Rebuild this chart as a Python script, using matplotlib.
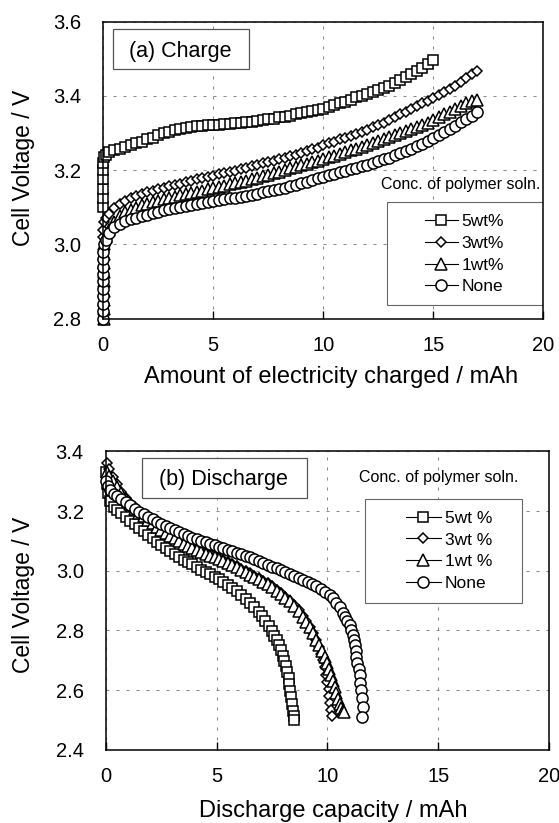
import matplotlib
matplotlib.use("Agg")
import matplotlib.pyplot as plt
from matplotlib.patches import Rectangle

plt.rcParams['font.family'] = ['Liberation Sans', 'DejaVu Sans']
plt.rcParams['lines.scale_dashes'] = False

# ---------------- data: (a) charge ----------------
CHG_GRID = [0.25, 0.5, 0.75, 1.0, 1.25, 1.5, 1.75, 2.0, 2.25, 2.5,
            2.75, 3.0, 3.25, 3.5, 3.75, 4.0, 4.25, 4.5, 4.75, 5.0,
            5.25, 5.5, 5.75, 6.0, 6.25, 6.5, 6.75, 7.0, 7.25, 7.5,
            7.75, 8.0, 8.25, 8.5, 8.75, 9.0, 9.25, 9.5, 9.75, 10.0,
            10.25, 10.5, 10.75, 11.0, 11.25, 11.5, 11.75, 12.0, 12.25, 12.5,
            12.75, 13.0, 13.25, 13.5, 13.75, 14.0, 14.25, 14.5, 14.75, 15.0,
            15.25, 15.5, 15.75, 16.0, 16.25, 16.5, 16.75, 17.0]

c5_head_x = [0.0, 0.0, 0.0, 0.0, 0.0, 0.0, 0.05, 0.1]
c5_head_y = [3.10, 3.125, 3.15, 3.175, 3.20, 3.22, 3.235, 3.242]
c5_y = [3.248, 3.253, 3.258, 3.262, 3.267, 3.272, 3.277, 3.283, 3.288, 3.294,
        3.299, 3.303, 3.307, 3.310, 3.313, 3.316, 3.318, 3.320, 3.321, 3.322,
        3.323, 3.324, 3.325, 3.326, 3.328, 3.329, 3.331, 3.333, 3.335, 3.337,
        3.339, 3.342, 3.344, 3.347, 3.350, 3.353, 3.356, 3.359, 3.362, 3.366,
        3.370, 3.375, 3.380, 3.385, 3.390, 3.396, 3.400, 3.405, 3.410, 3.416,
        3.422, 3.428, 3.435, 3.442, 3.450, 3.458, 3.467, 3.476, 3.486, 3.497]

c3_head_x = [0.0, 0.0, 0.05, 0.1]
c3_head_y = [3.02, 3.04, 3.06, 3.072]
c3_y = [3.083, 3.097, 3.108, 3.117, 3.124, 3.130, 3.135, 3.140, 3.145, 3.149,
        3.153, 3.157, 3.161, 3.164, 3.168, 3.171, 3.175, 3.178, 3.182, 3.185,
        3.189, 3.192, 3.196, 3.199, 3.203, 3.206, 3.210, 3.214, 3.218, 3.221,
        3.225, 3.229, 3.233, 3.237, 3.242, 3.246, 3.251, 3.256, 3.261, 3.267,
        3.272, 3.277, 3.283, 3.288, 3.293, 3.298, 3.304, 3.309, 3.315, 3.321,
        3.328, 3.335, 3.342, 3.350, 3.357, 3.365, 3.372, 3.380, 3.387, 3.394,
        3.402, 3.410, 3.419, 3.428, 3.438, 3.448, 3.458, 3.467]

c1_head_x = [0.05, 0.05, 0.05, 0.05, 0.05, 0.05, 0.05, 0.05, 0.05, 0.1]
c1_head_y = [2.80, 2.825, 2.85, 2.875, 2.90, 2.925, 2.95, 2.975, 3.0, 3.02]
c1_y = [3.040, 3.060, 3.076, 3.086, 3.093, 3.099, 3.105, 3.110, 3.114, 3.118,
        3.122, 3.125, 3.129, 3.132, 3.136, 3.139, 3.142, 3.145, 3.148, 3.151,
        3.155, 3.158, 3.162, 3.165, 3.169, 3.172, 3.176, 3.180, 3.184, 3.188,
        3.192, 3.196, 3.201, 3.205, 3.209, 3.213, 3.217, 3.221, 3.226, 3.230,
        3.235, 3.239, 3.244, 3.248, 3.253, 3.258, 3.263, 3.268, 3.274, 3.279,
        3.284, 3.289, 3.295, 3.300, 3.306, 3.311, 3.317, 3.322, 3.328, 3.335,
        3.342, 3.350, 3.358, 3.366, 3.373, 3.380, 3.386, 3.390]

c0_head_x = [0.0, 0.0, 0.0, 0.0, 0.0, 0.0, 0.0, 0.0, 0.0, 0.0, 0.05, 0.1]
c0_head_y = [2.80, 2.82, 2.84, 2.86, 2.88, 2.90, 2.92, 2.94, 2.96, 2.98, 3.0, 3.012]
c0_y = [3.030, 3.046, 3.056, 3.063, 3.068, 3.072, 3.076, 3.080, 3.084, 3.088,
        3.092, 3.095, 3.098, 3.101, 3.104, 3.106, 3.109, 3.111, 3.114, 3.116,
        3.119, 3.121, 3.124, 3.126, 3.129, 3.131, 3.134, 3.137, 3.140, 3.143,
        3.146, 3.150, 3.153, 3.157, 3.161, 3.165, 3.169, 3.173, 3.178, 3.182,
        3.186, 3.190, 3.194, 3.198, 3.202, 3.206, 3.211, 3.215, 3.220, 3.225,
        3.229, 3.234, 3.240, 3.245, 3.251, 3.257, 3.264, 3.271, 3.279, 3.287,
        3.295, 3.303, 3.311, 3.320, 3.329, 3.338, 3.347, 3.356]

# ---------------- data: (b) discharge ----------------
d5_x = [0.0, 0.05, 0.1, 0.2, 0.35, 0.5, 0.7, 0.9, 1.1, 1.3,
        1.5, 1.7, 1.9, 2.1, 2.3, 2.5, 2.7, 2.9, 3.1, 3.3,
        3.5, 3.7, 3.9, 4.1, 4.3, 4.5, 4.7, 4.9, 5.1, 5.3,
        5.5, 5.7, 5.9, 6.1, 6.3, 6.5, 6.7, 6.9, 7.05, 7.2,
        7.35, 7.5, 7.6, 7.7, 7.8, 7.9, 7.98, 8.05, 8.12, 8.18,
        8.24, 8.28, 8.32, 8.36, 8.40, 8.44, 8.48, 8.5]
d5_y = [3.330, 3.290, 3.260, 3.235, 3.215, 3.205, 3.193, 3.180, 3.168, 3.156,
        3.144, 3.132, 3.120, 3.108, 3.097, 3.086, 3.075, 3.065, 3.056, 3.046,
        3.037, 3.029, 3.021, 3.012, 3.004, 2.996, 2.988, 2.980, 2.971, 2.962,
        2.952, 2.942, 2.931, 2.919, 2.906, 2.892, 2.877, 2.861, 2.847, 2.832,
        2.815, 2.797, 2.783, 2.768, 2.752, 2.733, 2.716, 2.698, 2.680, 2.660,
        2.640, 2.620, 2.598, 2.576, 2.553, 2.530, 2.512, 2.500]

d3_x = [0.05, 0.15, 0.3, 0.5, 0.7, 0.9, 1.1, 1.3, 1.5, 1.7,
        1.9, 2.1, 2.3, 2.5, 2.7, 2.9, 3.1, 3.3, 3.5, 3.7,
        3.9, 4.1, 4.3, 4.5, 4.7, 4.9, 5.1, 5.3, 5.5, 5.7,
        5.9, 6.1, 6.3, 6.5, 6.7, 6.9, 7.1, 7.3, 7.5, 7.7,
        7.9, 8.1, 8.3, 8.5, 8.7, 8.9, 9.05, 9.2, 9.35, 9.5,
        9.62, 9.72, 9.8, 9.88, 9.95, 10.0, 10.05, 10.08, 10.12, 10.15,
        10.2]
d3_y = [3.360, 3.340, 3.315, 3.290, 3.265, 3.245, 3.228, 3.212, 3.198, 3.186,
        3.174, 3.163, 3.152, 3.142, 3.132, 3.122, 3.112, 3.103, 3.095, 3.087,
        3.080, 3.073, 3.067, 3.061, 3.055, 3.050, 3.044, 3.037, 3.030, 3.023,
        3.015, 3.007, 2.999, 2.991, 2.983, 2.975, 2.967, 2.958, 2.948, 2.937,
        2.926, 2.913, 2.900, 2.885, 2.868, 2.850, 2.832, 2.812, 2.790, 2.768,
        2.745, 2.722, 2.700, 2.676, 2.652, 2.628, 2.604, 2.580, 2.556, 2.534,
        2.512]

d1_x = [0.05, 0.15, 0.3, 0.5, 0.7, 0.9, 1.1, 1.3, 1.5, 1.7,
        1.9, 2.1, 2.3, 2.5, 2.7, 2.9, 3.1, 3.3, 3.5, 3.7,
        3.9, 4.1, 4.3, 4.5, 4.7, 4.9, 5.1, 5.3, 5.5, 5.7,
        5.9, 6.1, 6.3, 6.5, 6.7, 6.9, 7.1, 7.3, 7.5, 7.7,
        7.9, 8.1, 8.3, 8.5, 8.7, 8.9, 9.05, 9.2, 9.35, 9.5,
        9.62, 9.75, 9.87, 9.98, 10.08, 10.17, 10.25, 10.32, 10.4, 10.47,
        10.55, 10.62, 10.7, 10.75]
d1_y = [3.330, 3.316, 3.300, 3.280, 3.260, 3.241, 3.224, 3.208, 3.194, 3.182,
        3.170, 3.159, 3.148, 3.138, 3.128, 3.118, 3.108, 3.099, 3.091, 3.083,
        3.076, 3.069, 3.063, 3.057, 3.051, 3.046, 3.040, 3.033, 3.026, 3.019,
        3.011, 3.003, 2.995, 2.987, 2.979, 2.971, 2.963, 2.954, 2.944, 2.933,
        2.922, 2.910, 2.897, 2.882, 2.864, 2.845, 2.828, 2.810, 2.790, 2.769,
        2.750, 2.730, 2.710, 2.690, 2.670, 2.650, 2.630, 2.610, 2.590, 2.570,
        2.553, 2.540, 2.530, 2.528]

d0_x = [0.0, 0.1, 0.2, 0.35, 0.5, 0.7, 0.9, 1.1, 1.3, 1.5,
        1.7, 1.9, 2.1, 2.3, 2.5, 2.7, 2.9, 3.1, 3.3, 3.5,
        3.7, 3.9, 4.1, 4.3, 4.5, 4.7, 4.9, 5.1, 5.3, 5.5,
        5.7, 5.9, 6.1, 6.3, 6.5, 6.7, 6.9, 7.1, 7.3, 7.5,
        7.7, 7.9, 8.1, 8.3, 8.5, 8.7, 8.9, 9.1, 9.3, 9.5,
        9.7, 9.9, 10.1, 10.25, 10.4, 10.55, 10.7, 10.8, 10.9, 11.0,
        11.08, 11.15, 11.2, 11.25, 11.27, 11.3, 11.35, 11.4, 11.45, 11.47,
        11.5, 11.55, 11.6, 11.57]
d0_y = [3.300, 3.285, 3.270, 3.258, 3.250, 3.240, 3.230, 3.219, 3.208, 3.198,
        3.189, 3.180, 3.172, 3.164, 3.156, 3.149, 3.142, 3.135, 3.129, 3.123,
        3.117, 3.111, 3.105, 3.100, 3.095, 3.090, 3.085, 3.080, 3.075, 3.070,
        3.065, 3.060, 3.055, 3.050, 3.045, 3.039, 3.033, 3.026, 3.020, 3.014,
        3.008, 3.002, 2.996, 2.990, 2.984, 2.977, 2.970, 2.963, 2.956, 2.949,
        2.940, 2.930, 2.918, 2.907, 2.893, 2.877, 2.860, 2.846, 2.832, 2.818,
        2.802, 2.786, 2.768, 2.750, 2.730, 2.710, 2.690, 2.670, 2.650, 2.625,
        2.600, 2.575, 2.545, 2.510]

LABELS_A = ["5wt%", "3wt%", "1wt%", "None"]
LABELS_B = ["5wt %", "3wt %", "1wt %", "None"]
X_TICKS = [0, 5, 10, 15, 20]
Y_TICKS_A = [2.8, 3.0, 3.2, 3.4, 3.6]
Y_TICKS_B = [2.4, 2.6, 2.8, 3.0, 3.2, 3.4]

MARKERS = [('s', 7.6), ('D', 5.4), ('^', 8.0), ('o', 8.0)]

charge = [
    (c5_head_x + CHG_GRID[:len(c5_y)], c5_head_y + c5_y),
    (c3_head_x + CHG_GRID[:len(c3_y)], c3_head_y + c3_y),
    (c1_head_x + CHG_GRID[:len(c1_y)], c1_head_y + c1_y),
    (c0_head_x + CHG_GRID[:len(c0_y)], c0_head_y + c0_y),
]
discharge = [(d5_x, d5_y), (d3_x, d3_y), (d1_x, d1_y), (d0_x, d0_y)]

fig = plt.figure(figsize=(5.59, 8.23), dpi=100)
ax1 = fig.add_axes([0.1848, 0.6129, 0.7871, 0.3607])
ax2 = fig.add_axes([0.1896, 0.0889, 0.7925, 0.3627])

GRID_STYLE = dict(color='#8a8a8a', linestyle=(0, (2.2, 5.0)), linewidth=0.75)


def style_axes(ax, yticks):
    ax.set_xlim(0, 20)
    ax.set_ylim(yticks[0], yticks[-1])
    ax.set_xticks(X_TICKS)
    ax.set_yticks(yticks)
    ax.set_yticklabels(['%.1f' % v for v in yticks])
    ax.set_axisbelow(True)
    ax.grid(True, **GRID_STYLE)
    ax.tick_params(axis='x', direction='in', length=5.5, width=1.0, pad=12.5,
                   labelsize=14.5, top=False)
    ax.tick_params(axis='y', direction='in', length=0, pad=16, labelsize=14.5)
    for sp in ax.spines.values():
        sp.set_linewidth(1.1)
        sp.set_color('black')
        sp.set_zorder(10)


def draw_series(ax, data, labels):
    for (x, y), (m, ms), lab in zip(data, MARKERS, labels):
        ax.plot(x, y, color='black', lw=0.8, marker=m, ms=ms, mfc='white',
                mec='black', mew=1.1, clip_on=False, label=lab, zorder=3)


# ---- panel (a)
style_axes(ax1, Y_TICKS_A)
draw_series(ax1, charge, LABELS_A)
ax1.add_patch(Rectangle((0.0227, 0.8407), 0.3091, 0.1347, transform=ax1.transAxes,
                        facecolor='white', edgecolor='#555555', lw=0.9, zorder=4))
ax1.text(0.176, 0.8821, '(a) Charge', transform=ax1.transAxes, fontsize=15.5,
         ha='center', va='baseline', zorder=5)
ax1.add_patch(Rectangle((0.6441, 0.0458), 0.3545, 0.3459, transform=ax1.transAxes,
                        facecolor='white', edgecolor='#666666', lw=0.8, zorder=4))
ax1.text(0.6305, 0.4355, 'Conc. of polymer soln.', transform=ax1.transAxes,
         fontsize=11.5, ha='left', va='baseline', zorder=5)
leg1 = ax1.legend(loc='center left', bbox_to_anchor=(0.7311, 0.2166), frameon=False,
                  fontsize=12.5, handlelength=1.9, handletextpad=0.2, labelspacing=0.38,
                  borderpad=0, borderaxespad=0, numpoints=1)
leg1.set_zorder(6)

# ---- panel (b)
style_axes(ax2, Y_TICKS_B)
draw_series(ax2, discharge, LABELS_B)
ax2.add_patch(Rectangle((0.0819, 0.8425), 0.3709, 0.134, transform=ax2.transAxes,
                        facecolor='white', edgecolor='#555555', lw=0.9, zorder=4))
ax2.text(0.264, 0.887, '(b) Discharge', transform=ax2.transAxes, fontsize=15.5,
         ha='center', va='baseline', zorder=5)
ax2.add_patch(Rectangle((0.5847, 0.4908), 0.355, 0.3484, transform=ax2.transAxes,
                        facecolor='white', edgecolor='#666666', lw=0.8, zorder=4))
ax2.text(0.5718, 0.8982, 'Conc. of polymer soln.', transform=ax2.transAxes,
         fontsize=11.5, ha='left', va='baseline', zorder=5)
leg2 = ax2.legend(loc='center left', bbox_to_anchor=(0.6772, 0.6667), frameon=False,
                  fontsize=12.5, handlelength=2.0, handletextpad=0.25, labelspacing=0.38,
                  borderpad=0, borderaxespad=0, numpoints=1)
leg2.set_zorder(6)

# ---- axis labels
fig.text(24 / 559, 1 - 167.5 / 823, 'Cell Voltage / V', rotation=90, fontsize=16.5,
         ha='center', va='center')
fig.text(24 / 559, 1 - 595 / 823, 'Cell Voltage / V', rotation=90, fontsize=16.5,
         ha='center', va='center')
fig.text(331 / 559, 1 - 383 / 823, 'Amount of electricity charged / mAh', fontsize=17,
         ha='center', va='baseline')
fig.text(333 / 559, 1 - 817 / 823, 'Discharge capacity / mAh', fontsize=17,
         ha='center', va='baseline')

fig.savefig('out.png', dpi=100, facecolor='white')
